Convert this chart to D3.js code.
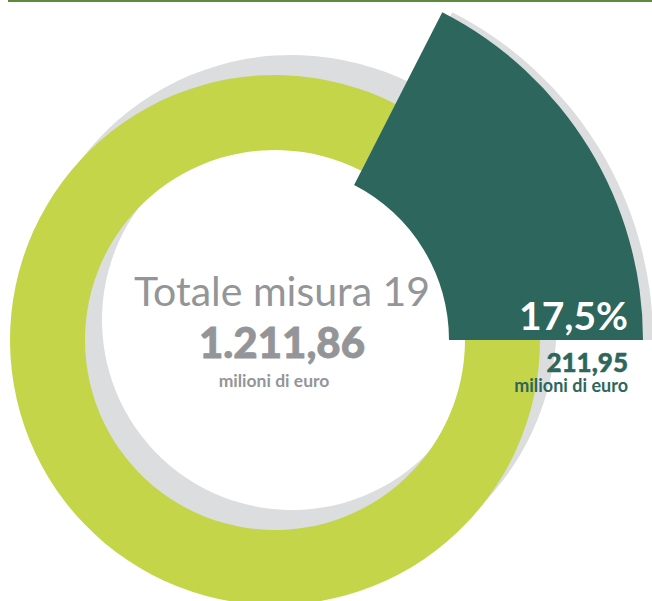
<!DOCTYPE html>
<html lang="it">
<head>
<meta charset="utf-8">
<title>Totale misura 19</title>
<script src="https://d3js.org/d3.v7.min.js"></script>
<style>
  body { margin: 0; background: #fff; }
  svg { display: block; font-family: Lato, "Open Sans", sans-serif; }
</style>
</head>
<body>
<div id="chart"></div>
<script>
// Data
const categories = ["Quota evidenziata", "Resto misura 19"];
const values = [211.95, 999.91];
const totalLabel = "Totale misura 19";
const unitLabel = "milioni di euro";

const width = 652;
const height = 601;
const cx = 275, cy = 340;
const colors = { highlight: "#2c665c", rest: "#c4d54a", shadow: "#dcdddf", text: "#939598" };

const it = d3.formatLocale({ decimal: ",", thousands: ".", grouping: [3], currency: ["", " €"] });
const fmtNum = it.format(",.2f");
const fmtPct = it.format(".1%");

const total = d3.sum(values);
const share = values[0] / total;

const svg = d3.select("#chart").append("svg")
  .attr("width", width)
  .attr("height", height)
  .attr("viewBox", `0 0 ${width} ${height}`);

// top rule
svg.append("line")
  .attr("x1", 8).attr("x2", width)
  .attr("y1", 1).attr("y2", 1)
  .attr("stroke", "#5e8a3c")
  .attr("stroke-width", 2);

// highlighted slice ends at 3 o'clock
const startAngle = Math.PI / 2 - 2 * Math.PI * share;
const pie = d3.pie().sort(null).value(d => d)
  .startAngle(startAngle)
  .endAngle(startAngle + 2 * Math.PI);
const arcs = pie(values);

const ringArc = d3.arc().innerRadius(190).outerRadius(265);
const bigArc = d3.arc().innerRadius(174).outerRadius(368);

// shadows
svg.append("path")
  .attr("transform", `translate(${cx + 17},${cy - 20})`)
  .attr("d", ringArc(arcs[1]))
  .attr("fill", colors.shadow);

svg.append("path")
  .attr("transform", `translate(${cx + 10},${cy})`)
  .attr("d", bigArc(arcs[0]))
  .attr("fill", colors.shadow);

const g = svg.append("g").attr("transform", `translate(${cx},${cy})`);

g.append("path")
  .attr("d", ringArc(arcs[1]))
  .attr("fill", colors.rest);

g.append("path")
  .attr("d", bigArc(arcs[0]))
  .attr("fill", colors.highlight);

// centre labels
svg.append("text")
  .attr("x", 282).attr("y", 306)
  .attr("text-anchor", "middle")
  .attr("font-size", 41)
  .attr("font-weight", 400)
  .attr("fill", colors.text)
  .text(totalLabel);

svg.append("text")
  .attr("x", 282).attr("y", 358)
  .attr("text-anchor", "middle")
  .attr("font-size", 42)
  .attr("font-weight", 900)
  .attr("fill", colors.text)
  .attr("stroke", colors.text)
  .attr("stroke-width", 0.8)
  .text(fmtNum(total));

svg.append("text")
  .attr("x", 274).attr("y", 387)
  .attr("text-anchor", "middle")
  .attr("font-size", 17.5)
  .attr("font-weight", 700)
  .attr("fill", colors.text)
  .text(unitLabel);

// slice labels
svg.append("text")
  .attr("x", 628).attr("y", 330)
  .attr("text-anchor", "end")
  .attr("font-size", 39)
  .attr("font-weight", 700)
  .attr("fill", "#fff")
  .text(fmtPct(share));

svg.append("text")
  .attr("x", 628).attr("y", 372)
  .attr("text-anchor", "end")
  .attr("font-size", 26)
  .attr("font-weight", 900)
  .attr("fill", colors.highlight)
  .attr("stroke", colors.highlight)
  .attr("stroke-width", 0.5)
  .text(fmtNum(values[0]));

svg.append("text")
  .attr("x", 628).attr("y", 392)
  .attr("text-anchor", "end")
  .attr("font-size", 18)
  .attr("font-weight", 700)
  .attr("fill", colors.highlight)
  .text(unitLabel);
</script>
</body>
</html>
